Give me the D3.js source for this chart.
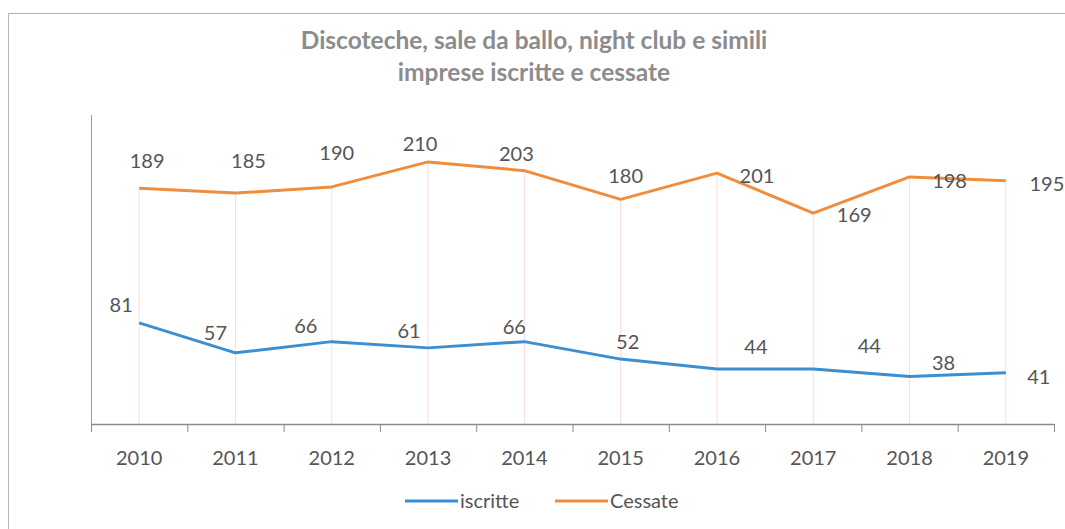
<!DOCTYPE html>
<html>
<head>
<meta charset="utf-8">
<script src="https://cdn.jsdelivr.net/npm/d3@7/dist/d3.min.js"></script>
<style>
  html, body { margin: 0; padding: 0; background: #fff; }
  svg { display: block; }
  text { font-family: Lato, "Open Sans", sans-serif; }
</style>
</head>
<body>
<svg id="chart" width="1065" height="529"></svg>
<script>
// ---- data ----
const years = ["2010","2011","2012","2013","2014","2015","2016","2017","2018","2019"];
const iscritte = [81, 57, 66, 61, 66, 52, 44, 44, 38, 41];
const cessate = [189, 185, 190, 210, 203, 180, 201, 169, 198, 195];
const titleLines = ["Discoteche, sale da ballo, night club e simili", "imprese iscritte e cessate"];
const seriesNames = ["iscritte", "Cessate"];

// label placement (offset of label centre/baseline from its point)
const cessateLabelOffset = [[8,-20],[13,-25],[5,-27],[-8,-11],[-8,-10],[5,-16],[40,10],[41,9],[40,11],[41,10]];
const iscritteLabelOffset = [[-18,-11],[-20,-13],[-26,-9],[-19,-10],[-10,-8],[7,-10],[39,-15],[56,-16],[34,-7],[33,11]];

const colors = { iscritte: "#3b8fd1", cessate: "#ef8d3c" };

const svg = d3.select("#chart");

// frame
svg.append("rect").attr("x", 8.5).attr("y", 13.5).attr("width", 1100).attr("height", 600)
  .attr("fill", "none").attr("stroke", "#b4b4b4").attr("stroke-width", 1);

// title
svg.append("g").selectAll("text").data(titleLines).join("text")
  .attr("x", 534).attr("y", (d, i) => 49 + i * 32)
  .attr("text-anchor", "middle")
  .attr("font-size", 24.5).attr("font-weight", "bold")
  .attr("fill", "#8c8c8c")
  .text(d => d);

// scales
const x = d3.scaleBand().domain(years).range([91, 1054]).padding(0);
const y = d3.scaleLinear().domain([0, 250]).range([424, 112]);
const cx = d => x(d) + x.bandwidth() / 2;

// drop lines (faint)
svg.append("g").selectAll("line").data(years).join("line")
  .attr("x1", d => cx(d)).attr("x2", d => cx(d))
  .attr("y1", (d, i) => y(cessate[i])).attr("y2", y(0))
  .attr("stroke", "#f4dde2").attr("stroke-width", 1);

// y axis line
svg.append("line").attr("x1", 91.5).attr("x2", 91.5).attr("y1", 115).attr("y2", 424)
  .attr("stroke", "#9a9a9a").attr("stroke-width", 1);

// x axis
const xAxisTicks = years.concat(["end"]);
const gx = svg.append("g").attr("transform", `translate(0,${y(0)})`);
gx.append("line").attr("x1", 91).attr("x2", 1054).attr("y1", 0.5).attr("y2", 0.5)
  .attr("stroke", "#8a8a8a").attr("stroke-width", 1.3);
gx.selectAll("line.tick").data(xAxisTicks).join("line").attr("class", "tick")
  .attr("x1", d => d === "end" ? 1054.5 : x(d) + 0.5)
  .attr("x2", d => d === "end" ? 1054.5 : x(d) + 0.5)
  .attr("y1", 0).attr("y2", 8)
  .attr("stroke", "#8a8a8a").attr("stroke-width", 1);
gx.selectAll("text").data(years).join("text")
  .attr("x", d => cx(d)).attr("y", 41)
  .attr("text-anchor", "middle").attr("font-size", 20).attr("fill", "#555")
  .text(d => d);

// lines
const line = d3.line().x((d, i) => cx(years[i])).y(d => y(d));
svg.append("path").datum(cessate).attr("d", line)
  .attr("fill", "none").attr("stroke", colors.cessate).attr("stroke-width", 3).attr("stroke-linejoin", "round");
svg.append("path").datum(iscritte).attr("d", line)
  .attr("fill", "none").attr("stroke", colors.iscritte).attr("stroke-width", 3).attr("stroke-linejoin", "round");

// data labels
function labels(vals, offs) {
  svg.append("g").selectAll("text").data(vals).join("text")
    .attr("x", (d, i) => cx(years[i]) + offs[i][0])
    .attr("y", (d, i) => y(d) + offs[i][1])
    .attr("text-anchor", "middle").attr("font-size", 20).attr("fill", "#555")
    .text(d => d);
}
labels(cessate, cessateLabelOffset);
labels(iscritte, iscritteLabelOffset);

// legend
const legend = svg.append("g");
const legendItems = [
  { name: seriesNames[0], color: colors.iscritte, x: 405 },
  { name: seriesNames[1], color: colors.cessate, x: 555 }
];
legendItems.forEach(it => {
  legend.append("line").attr("x1", it.x).attr("x2", it.x + 53).attr("y1", 501).attr("y2", 501)
    .attr("stroke", it.color).attr("stroke-width", 3);
  legend.append("text").attr("x", it.x + 55).attr("y", 508)
    .attr("font-size", 20).attr("fill", "#555").text(it.name);
});
</script>
</body>
</html>
